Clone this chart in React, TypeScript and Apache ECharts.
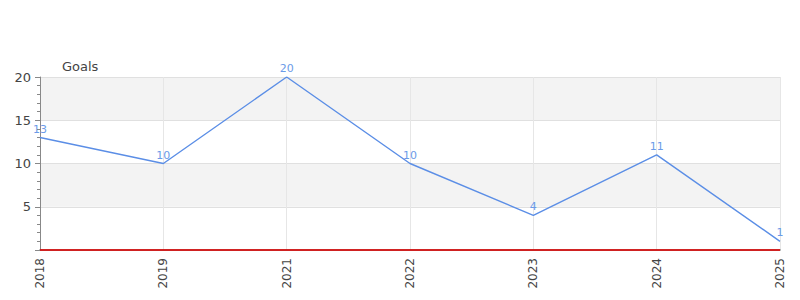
import React, { useEffect, useRef } from "react";
import * as echarts from "echarts";

const years = ["2018", "2019", "2021", "2022", "2023", "2024", "2025"];
const goals = [13, 10, 20, 10, 4, 11, 1];
const yTicks = [0, 5, 10, 15, 20];

export default function App() {
  const ref = useRef<HTMLDivElement>(null);
  useEffect(() => {
    const chart = echarts.init(ref.current!, null, { renderer: "svg" });
    chart.setOption({
      animation: false,
      grid: { left: 32, right: 12, top: 69, bottom: 58 },
      xAxis: {
        type: "category",
        data: years,
        boundaryGap: false,
        offset: 1,
        axisLine: { show: true, lineStyle: { color: "#666", width: 1.5 } },
        axisTick: { show: false },
        axisLabel: { rotate: 90, color: "#444", fontSize: 12, fontFamily: "DejaVu Sans", margin: 7 },
        splitLine: { show: true, lineStyle: { color: "#e6e6e6" } },
      },
      yAxis: {
        type: "value",
        min: yTicks[0],
        max: yTicks[yTicks.length - 1],
        interval: 5,
        name: "Goals",
        nameLocation: "end",
        nameGap: 4,
        nameTextStyle: { color: "#444", fontSize: 13, fontFamily: "DejaVu Sans", align: "left", padding: [0, 0, 0, 22] },
        axisLine: { show: true, lineStyle: { color: "#888" } },
        axisTick: { show: true, length: 5, lineStyle: { color: "#888" } },
        minorTick: { show: true, splitNumber: 5, length: 3, lineStyle: { color: "#888" } },
        axisLabel: {
          color: "#444",
          fontSize: 13,
          fontFamily: "DejaVu Sans",
          margin: 9,
          formatter: (v: number) => (v === 0 ? "" : String(v)),
        },
        splitLine: { show: true, lineStyle: { color: "#e0e0e0" } },
        splitArea: { show: true, areaStyle: { color: ["rgba(255,255,255,0)", "#f3f3f3"] } },
      },
      series: [
        {
          type: "line",
          data: goals,
          symbol: "circle",
          symbolSize: 0,
          lineStyle: { color: "#5b8ee6", width: 1.4 },
          itemStyle: { color: "#5b8ee6" },
          label: { show: true, position: "top", color: "#6b9be8", fontSize: 11, fontFamily: "DejaVu Sans", distance: 3 },
          markLine: {
            silent: true,
            symbol: "none",
            label: { show: false },
            lineStyle: { color: "#e80000", type: "solid", width: 1.5 },
            data: [{ yAxis: 0 }],
          },
        },
      ],
    });
    return () => chart.dispose();
  }, []);
  return <div ref={ref} style={{ width: 784, height: 300 }} />;
}
